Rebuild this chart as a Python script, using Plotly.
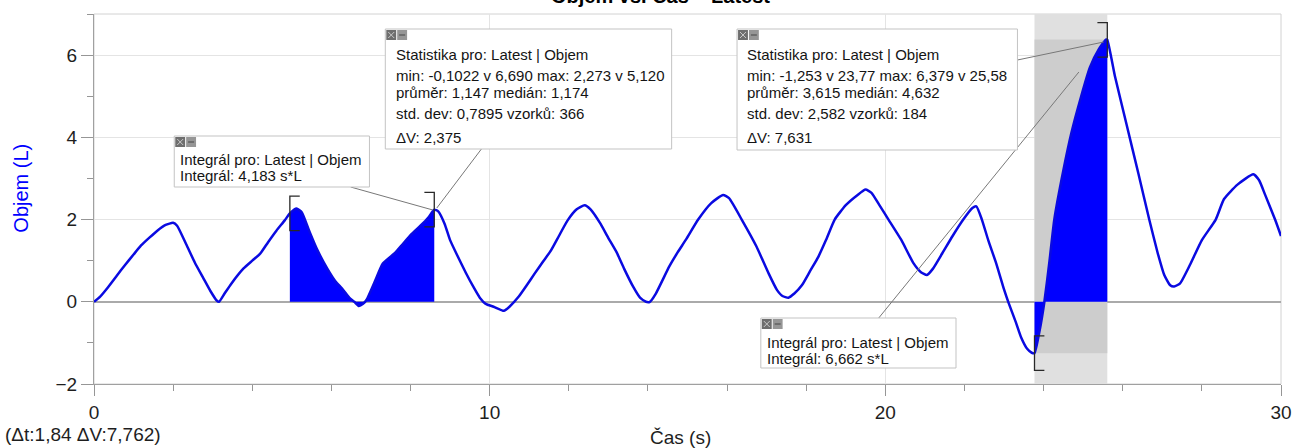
import plotly.graph_objects as go

# ---------------- data ----------------
cas = [0.0, 0.15, 0.36, 0.58, 0.78, 1.0, 1.19, 1.4, 1.6, 1.81, 2.0, 2.1, 2.33, 2.55, 2.75, 2.95, 3.1, 3.16,
       3.3, 3.47, 3.78, 4.0, 4.2, 4.4, 4.61, 4.82, 4.95, 5.12, 5.25, 5.45, 5.65, 5.9, 6.1, 6.27, 6.45,
       6.58, 6.69, 6.8, 6.89, 7.1, 7.3, 7.62, 7.8, 8.03, 8.25, 8.45, 8.6, 8.7, 8.86, 9.0, 9.17, 9.4,
       9.59, 9.75, 9.9, 10.1, 10.36, 10.5, 10.73, 10.95, 11.14, 11.35, 11.55, 11.75, 11.97, 12.2, 12.4,
       12.55, 12.8, 13.0, 13.21, 13.4, 13.63, 13.8, 13.95, 14.05, 14.2, 14.54, 14.75, 14.96, 15.27, 15.6,
       15.9, 16.05, 16.37, 16.74, 17.05, 17.26, 17.4, 17.55, 17.7, 17.89, 18.1, 18.31, 18.5, 18.72, 19.0,
       19.3, 19.5, 19.65, 19.85, 20.08, 20.4, 20.71, 20.9, 21.05, 21.2, 21.44, 21.7, 21.97, 22.2, 22.3,
       22.44, 22.6, 22.8, 23.0, 23.12, 23.3, 23.43, 23.59, 23.7, 23.77, 23.9, 24.02, 24.15, 24.27, 24.5,
       24.7, 24.95, 25.17, 25.4, 25.58, 25.61, 25.8, 26.1, 26.4, 26.67, 26.88, 27.05, 27.2, 27.3, 27.45,
       27.7, 28.0, 28.35, 28.56, 28.9, 29.3, 29.45, 29.6, 29.85, 30.0]
objem = [0.0, 0.12, 0.36, 0.64, 0.89, 1.15, 1.37, 1.56, 1.73, 1.87, 1.92, 1.85, 1.40, 0.95, 0.6, 0.25, 0.03, 0.0,
         0.2, 0.44, 0.81, 1.0, 1.17, 1.45, 1.73, 1.98, 2.15, 2.27, 2.18, 1.7, 1.25, 0.8, 0.5, 0.32, 0.1,
         0.0, -0.10, -0.05, 0.05, 0.5, 0.93, 1.2, 1.4, 1.65, 1.85, 2.05, 2.24, 2.2, 1.9, 1.5, 1.15, 0.7,
         0.36, 0.1, -0.05, -0.12, -0.22, -0.12, 0.12, 0.42, 0.69, 0.98, 1.25, 1.6, 1.98, 2.25, 2.35,
         2.25, 1.9, 1.55, 1.2, 0.8, 0.36, 0.1, 0.0, 0.0, 0.2, 0.86, 1.2, 1.51, 2.0, 2.4,
         2.6, 2.52, 2.0, 1.35, 0.69, 0.29, 0.14, 0.1, 0.2, 0.4, 0.75, 1.1, 1.5, 2.0, 2.35,
         2.6, 2.73, 2.65, 2.35, 2.0, 1.51, 0.94, 0.72, 0.65, 0.8, 1.18, 1.6, 2.0, 2.28, 2.32,
         2.0, 1.5, 0.94, 0.3, -0.04, -0.5, -0.86, -1.15, -1.24, -1.25, -0.7, 0.0, 1.0, 2.0, 3.2,
         4.1, 5.0, 5.7, 6.15, 6.38, 6.37, 5.5, 4.3, 3.1, 2.0, 1.2, 0.65, 0.4, 0.37, 0.45,
         0.9, 1.5, 2.0, 2.5, 2.85, 3.1, 2.95, 2.6, 2.0, 1.6]

region_start = [4.95, 23.77]
region_end = [8.6, 25.61]
region2_min = -1.253
region2_max = 6.379

title_text = "Objem vs. Čas – Latest"
x_title = "Čas (s)"
y_title = "Objem (L)"
cursor_text = "(Δt:1,84 ΔV:7,762)"

integral1_lines = ["Integrál pro: Latest | Objem", "Integrál: 4,183 s*L"]
stats1_lines = ["Statistika pro: Latest | Objem",
                "min: -0,1022 v 6,690 max: 2,273 v 5,120",
                "průměr: 1,147 medián: 1,174",
                "std. dev: 0,7895 vzorků: 366",
                "ΔV: 2,375"]
stats2_lines = ["Statistika pro: Latest | Objem",
                "min: -1,253 v 23,77 max: 6,379 v 25,58",
                "průměr: 3,615 medián: 4,632",
                "std. dev: 2,582 vzorků: 184",
                "ΔV: 7,631"]
integral2_lines = ["Integrál pro: Latest | Objem", "Integrál: 6,662 s*L"]

# ---------------- layout geometry (pixels) ----------------
W, H = 1304, 448
L, R, T, B = 94, 1292, 14, 384
FONT = "Liberation Sans, Arial, sans-serif"


def px(x):
    return (x - L) / (R - L)


def py(y):
    return (B - y) / (B - T)


LINE_BLUE = "rgb(10,10,225)"
FILL_BLUE = "rgb(0,0,255)"

fig = go.Figure()

# filled integral regions
for s, e in zip(region_start, region_end):
    xs = [t for t in cas if s <= t <= e]
    ys = [v for t, v in zip(cas, objem) if s <= t <= e]
    fig.add_trace(go.Scatter(x=xs, y=ys, mode="lines", fill="tozeroy",
                             fillcolor=FILL_BLUE, line=dict(width=0, color=FILL_BLUE, shape="spline", smoothing=0.5),
                             hoverinfo="skip", showlegend=False))

fig.add_trace(go.Scatter(x=cas, y=objem, mode="lines",
                         line=dict(color=LINE_BLUE, width=2.5, shape="spline", smoothing=0.5),
                         showlegend=False))

shapes = []
annotations = []

# plot frame
shapes.append(dict(type="rect", xref="paper", yref="paper", x0=0, x1=1, y0=0, y1=1,
                   line=dict(color="rgb(210,210,210)", width=1), layer="below"))

# gray band for region 2
s2, e2 = region_start[1], region_end[1]
shapes.append(dict(type="rect", xref="x", yref="paper", x0=s2, x1=e2, y0=0, y1=1,
                   fillcolor="rgb(224,224,224)", line=dict(width=0), layer="between"))
shapes.append(dict(type="rect", xref="x", yref="y", x0=s2, x1=e2, y0=region2_min, y1=region2_max,
                   fillcolor="rgb(205,205,205)", line=dict(width=0), layer="between"))


# brackets at region ends, centred on the curve value there
def value_at(t):
    return objem[cas.index(t)]


def bracket(t, side):
    v = value_at(t)
    h = 0.42
    d = 0.25 if side == "left" else -0.25
    path = f"M {t + d},{v + h} L {t},{v + h} L {t},{v - h} L {t + d},{v - h}"
    return dict(type="path", xref="x", yref="y", path=path,
                line=dict(color="rgb(40,40,40)", width=1.3), layer="above")


for s, e in zip(region_start, region_end):
    shapes.append(bracket(s, "left"))
    shapes.append(bracket(e, "right"))

# leader lines (pixels)
leaders = [((353, 187), (436, 210)),
           ((485, 149), (440, 208)),
           ((1026, 60), (1113, 42)),
           ((886, 318), (1088, 72))]
for (xa, ya), (xb, yb) in leaders:
    shapes.append(dict(type="line", xref="paper", yref="paper", x0=px(xa), y0=py(ya), x1=px(xb), y1=py(yb),
                       line=dict(color="rgb(120,120,120)", width=1), layer="above"))


def add_box(x0, y0, x1, y1, text_left, lines, baselines):
    shapes.append(dict(type="rect", xref="paper", yref="paper", x0=px(x0), x1=px(x1), y0=py(y0), y1=py(y1),
                       fillcolor="white", line=dict(color="rgb(195,195,195)", width=1), layer="above"))
    # icons
    ix, iy = x0 + 1, y0 + 1
    shapes.append(dict(type="rect", xref="paper", yref="paper", x0=px(ix), x1=px(ix + 10), y0=py(iy), y1=py(iy + 10),
                       fillcolor="rgb(110,110,110)", line=dict(width=0), layer="above"))
    shapes.append(dict(type="rect", xref="paper", yref="paper", x0=px(ix + 11), x1=px(ix + 21), y0=py(iy), y1=py(iy + 10),
                       fillcolor="rgb(150,150,150)", line=dict(width=0), layer="above"))
    for (a, b), (c, d) in [((ix + 2, iy + 2), (ix + 8, iy + 8)), ((ix + 2, iy + 8), (ix + 8, iy + 2))]:
        shapes.append(dict(type="line", xref="paper", yref="paper", x0=px(a), y0=py(b), x1=px(c), y1=py(d),
                           line=dict(color="rgb(200,200,200)", width=1), layer="above"))
    shapes.append(dict(type="line", xref="paper", yref="paper", x0=px(ix + 13), y0=py(iy + 5), x1=px(ix + 19), y1=py(iy + 5),
                       line=dict(color="rgb(70,70,70)", width=1), layer="above"))
    for txt, bl in zip(lines, baselines):
        annotations.append(dict(xref="paper", yref="paper", x=px(text_left - 1), y=py(bl - 4.5),
                                xanchor="left", yanchor="middle", text=txt, showarrow=False,
                                font=dict(family=FONT, size=15, color="rgb(20,20,20)")))


add_box(175, 136, 372, 187, 180, integral1_lines, [164, 180])
add_box(388, 29, 677, 149, 398, stats1_lines, [59, 80, 97, 118, 142])
add_box(743, 29, 1026, 150, 752, stats2_lines, [59, 80, 97, 118, 142])
add_box(767, 318, 964, 368, 772, integral2_lines, [347, 363])

# texts (title is cut off at the top edge in the reference)
annotations.append(dict(xref="paper", yref="paper", x=px(666), y=py(-5), xanchor="center", yanchor="middle",
                        text="<b>" + title_text + "</b>", showarrow=False,
                        font=dict(family=FONT, size=20, color="black")))
annotations.append(dict(xref="paper", yref="paper", x=px(20), y=py(188), xanchor="center", yanchor="middle",
                        text=y_title, textangle=-90, showarrow=False,
                        font=dict(family=FONT, size=20, color="rgb(0,0,255)")))
annotations.append(dict(xref="paper", yref="paper", x=px(686), y=py(437), xanchor="center", yanchor="middle",
                        text=x_title, showarrow=False,
                        font=dict(family=FONT, size=19, color="rgb(30,30,30)")))
annotations.append(dict(xref="paper", yref="paper", x=px(2), y=py(434), xanchor="left", yanchor="middle",
                        text=cursor_text, showarrow=False,
                        font=dict(family=FONT, size=19, color="rgb(30,30,30)")))

fig.update_layout(
    width=W, height=H, autosize=False,
    margin=dict(l=L, r=W - R, t=T, b=H - B, pad=0),
    paper_bgcolor="white", plot_bgcolor="white",
    shapes=shapes, annotations=annotations,
    showlegend=False,
    xaxis=dict(range=[0, 30], dtick=10, tick0=0, ticks="outside", ticklen=11, tickcolor="rgb(150,150,150)",
               showline=True, linecolor="rgb(160,160,160)", linewidth=1.2,
               showgrid=True, gridcolor="rgb(228,228,228)", zeroline=False,
               tickfont=dict(family=FONT, size=19, color="rgb(30,30,30)"),
               minor=dict(dtick=2, tick0=0, ticks="outside", ticklen=6, tickcolor="rgb(150,150,150)", showgrid=False)),
    yaxis=dict(range=[-2, 7], dtick=2, tick0=0, ticks="outside", ticklen=12, tickcolor="rgb(150,150,150)",
               showline=True, linecolor="rgb(160,160,160)", linewidth=1.2,
               showgrid=True, gridcolor="rgb(228,228,228)",
               zeroline=True, zerolinecolor="rgb(170,170,170)", zerolinewidth=1.5,
               tickfont=dict(family=FONT, size=19, color="rgb(30,30,30)"),
               minor=dict(dtick=1, tick0=0, ticks="outside", ticklen=6, tickcolor="rgb(150,150,150)", showgrid=False)),
)

fig.write_html("out.html", config={"displayModeBar": False},
               post_script="document.body.style.margin='0px';document.body.style.overflow='hidden';")
